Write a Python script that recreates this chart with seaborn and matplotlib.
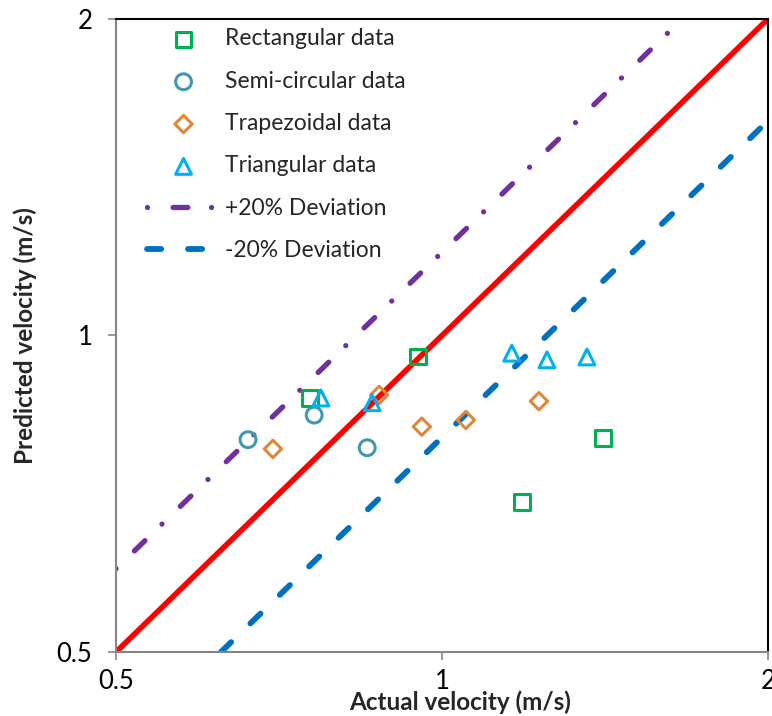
import numpy as np
import pandas as pd
import matplotlib
matplotlib.use("Agg")
import matplotlib.pyplot as plt
from matplotlib.ticker import FixedLocator, FixedFormatter, NullLocator
import seaborn as sns

# Measured (actual) vs predicted velocities, m/s
rect_actual = [0.950, 0.755, 1.408, 1.185]
rect_pred = [0.955, 0.872, 0.799, 0.694]

semi_actual = [0.662, 0.762, 0.853]
semi_pred = [0.796, 0.840, 0.782]

trap_actual = [0.698, 0.875, 0.958, 1.052, 1.229]
trap_pred = [0.780, 0.878, 0.819, 0.831, 0.866]

tri_actual = [0.773, 0.862, 1.160, 1.250, 1.361]
tri_pred = [0.872, 0.863, 0.962, 0.948, 0.954]

# Reference lines: perfect agreement and +/-20% bands
line_x = [0.5, 2.0]
upper_factor = 1.2
lower_factor = 0.8

tick_values = [0.5, 1, 2]
tick_labels = ["0.5", "1", "2"]

sns.set_theme(style="white")
plt.rcParams["font.family"] = ["Lato", "DejaVu Sans"]
plt.rcParams["lines.scale_dashes"] = False

fig = plt.figure(figsize=(7.72, 7.16), dpi=100)
ax = fig.add_axes([0.1503, 0.0894, 0.8445, 0.8841])

# Lines
df_line = pd.DataFrame({"x": line_x, "y": line_x})
sns.lineplot(data=df_line, x="x", y="y", ax=ax, color="#FF0000", lw=4.0,
             solid_capstyle="butt", zorder=2)

df_up = pd.DataFrame({"x": [line_x[0], line_x[1] / upper_factor],
                      "y": [line_x[0] * upper_factor, line_x[1]]})
sns.lineplot(data=df_up, x="x", y="y", ax=ax, color="#7030A0", lw=3.8,
             label="+20% Deviation", zorder=2)
purple = ax.lines[-1]
purple.set_linestyle((0, (0.01, 18.4, 10.6, 17.1)))
purple.set_dash_capstyle("round")

df_lo = pd.DataFrame({"x": [line_x[0] / lower_factor, line_x[1]],
                      "y": [line_x[0], line_x[1] * lower_factor]})
sns.lineplot(data=df_lo, x="x", y="y", ax=ax, color="#0070C0", lw=4.2,
             label="-20% Deviation", zorder=2)
blue = ax.lines[-1]
blue.set_linestyle((0, (10.2, 19.3)))
blue.set_dash_capstyle("round")

# Data points
ms = 130
ew = 2.2
sns.scatterplot(x=rect_actual, y=rect_pred, ax=ax, marker="s", s=ms,
                facecolors="none", edgecolor="#00B050", linewidth=ew,
                label="Rectangular data", zorder=3)
sns.scatterplot(x=semi_actual, y=semi_pred, ax=ax, marker="o", s=ms,
                facecolors="none", edgecolor="#4198AF", linewidth=ew,
                label="Semi-circular data", zorder=3)
sns.scatterplot(x=trap_actual, y=trap_pred, ax=ax, marker="D", s=ms * 0.6,
                facecolors="none", edgecolor="#E0883A", linewidth=ew,
                label="Trapezoidal data", zorder=3)
sns.scatterplot(x=tri_actual, y=tri_pred, ax=ax, marker="^", s=ms,
                facecolors="none", edgecolor="#00B0F0", linewidth=ew,
                label="Triangular data", zorder=3)

ax.set_xscale("log")
ax.set_yscale("log")
ax.set_xlim(0.5, 2)
ax.set_ylim(0.5, 2)
for axis in (ax.xaxis, ax.yaxis):
    axis.set_major_locator(FixedLocator(tick_values))
    axis.set_major_formatter(FixedFormatter(tick_labels))
    axis.set_minor_locator(NullLocator())

ax.tick_params(axis="both", which="major", direction="out", length=6,
               width=1.2, color="#868686", labelsize=18.5, labelcolor="black")
ax.tick_params(axis="x", pad=6, bottom=True)
ax.tick_params(axis="y", pad=11, left=True)

for side in ("left", "bottom"):
    ax.spines[side].set_color("#868686")
    ax.spines[side].set_linewidth(1.5)
for side in ("top", "right"):
    ax.spines[side].set_color("black")
    ax.spines[side].set_linewidth(1.5)

ax.set_xlabel("Actual velocity (m/s)", fontsize=17.5, fontweight="bold")
ax.set_ylabel("Predicted velocity (m/s)", fontsize=17.5, fontweight="bold")
ax.xaxis.set_label_coords(0.528, -0.060)
ax.yaxis.set_label_coords(-0.121, 0.5)

handles, labels = ax.get_legend_handles_labels()
order = ["Rectangular data", "Semi-circular data", "Trapezoidal data",
         "Triangular data", "+20% Deviation", "-20% Deviation"]
hmap = dict(zip(labels, handles))
ax.legend([hmap[k] for k in order], order, loc="upper left",
          bbox_to_anchor=(0.0475, 0.985), frameon=False, fontsize=16.5,
          handlelength=3.19, handletextpad=0.22, labelspacing=0.93,
          borderpad=0, borderaxespad=0)

fig.savefig("out.png", dpi=100)
